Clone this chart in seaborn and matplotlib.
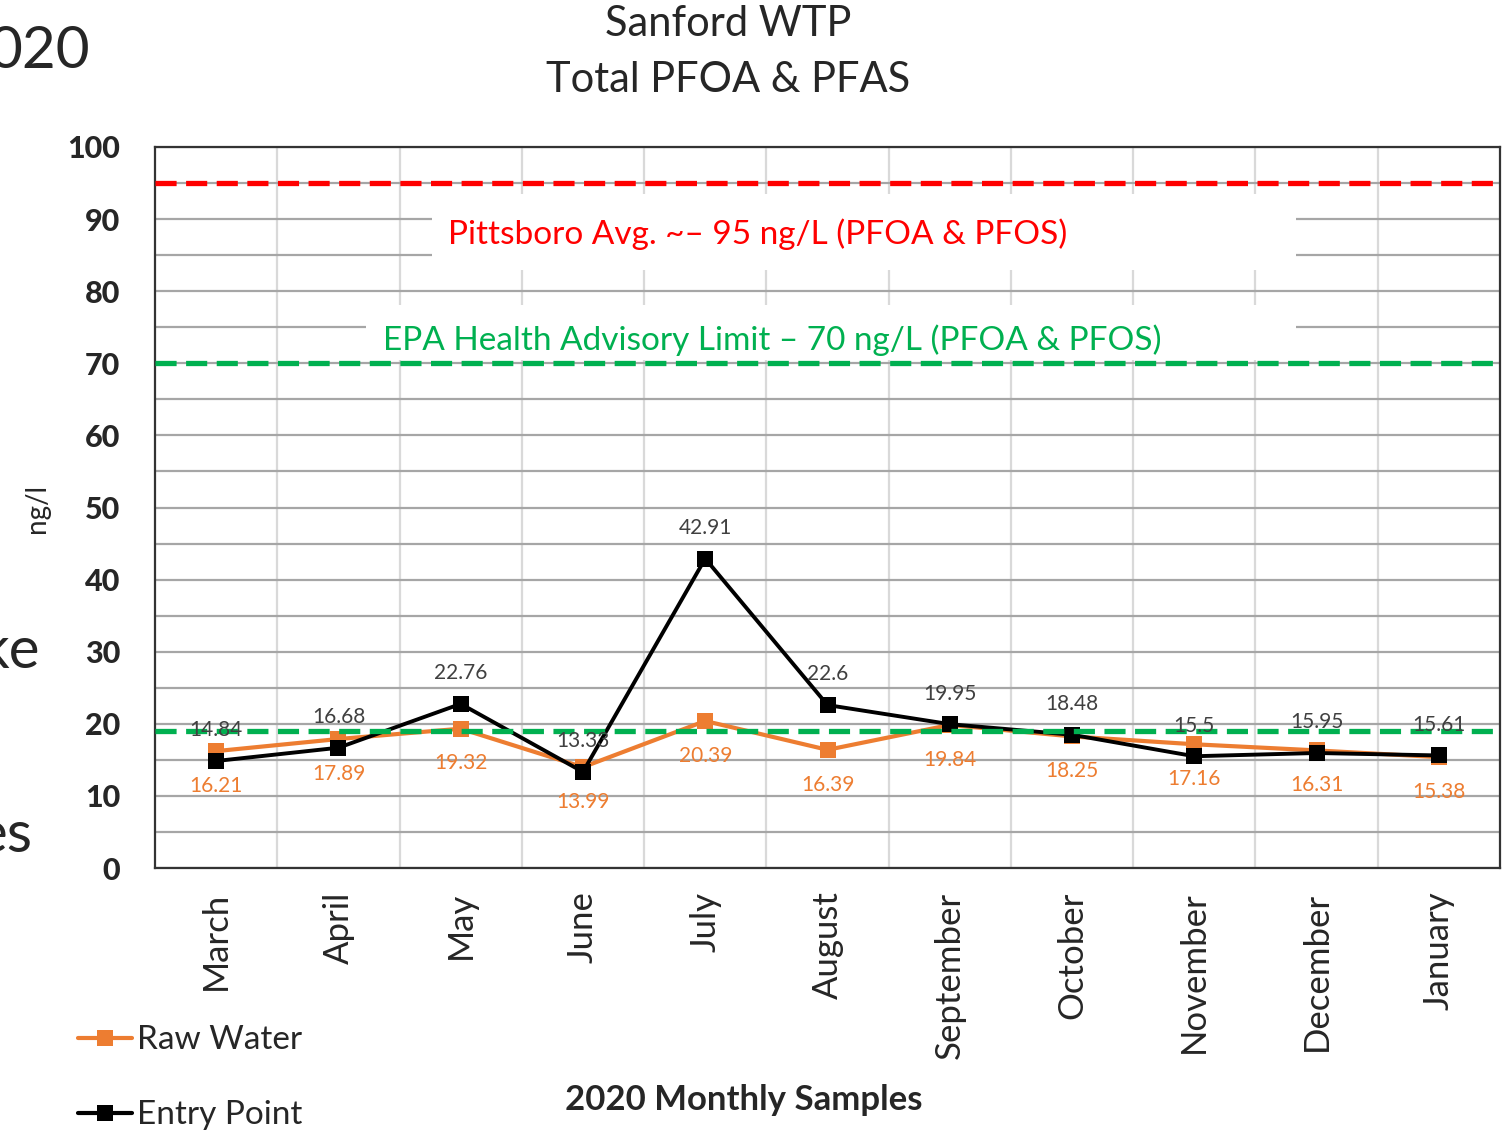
import matplotlib
matplotlib.use("Agg")
import matplotlib.pyplot as plt
from matplotlib.patches import Rectangle
from matplotlib.ticker import FixedLocator, MultipleLocator
from matplotlib.lines import Line2D
import seaborn as sns
import pandas as pd

months = ["March", "April", "May", "June", "July", "August", "September",
          "October", "November", "December", "January"]
raw_water = [16.21, 17.89, 19.32, 13.99, 20.39, 16.39, 19.84, 18.25, 17.16, 16.31, 15.38]
entry_point = [14.84, 16.68, 22.76, 13.33, 42.91, 22.6, 19.95, 18.48, 15.5, 15.95, 15.61]
pittsboro_avg = 95
epa_limit = 70
reference_line = 19
yticks = [0, 10, 20, 30, 40, 50, 60, 70, 80, 90, 100]

ORANGE = "#ED7D31"
GREEN = "#00B050"
RED = "#FF0000"

sns.set_style("white")
plt.rcParams["font.family"] = ["Lato", "DejaVu Sans"]

fig = plt.figure(figsize=(15.11, 11.31), dpi=100)
ax = fig.add_axes([155/1511, 263/1131, 1345/1511, 721/1131])

df = pd.DataFrame({
    "Month": months * 2,
    "Value": raw_water + entry_point,
    "Series": ["Raw Water"] * len(months) + ["Entry Point"] * len(months),
})
df["x"] = list(range(len(months))) * 2

sns.lineplot(data=df[df.Series == "Raw Water"], x="x", y="Value", color=ORANGE,
             marker="s", markersize=11, markeredgewidth=0, linewidth=3, ax=ax,
             zorder=4, label="Raw Water", legend=False)
sns.lineplot(data=df[df.Series == "Entry Point"], x="x", y="Value", color="black",
             marker="s", markersize=11, markeredgewidth=0, linewidth=2.8, ax=ax,
             zorder=5, label="Entry Point", legend=False)

# reference lines
for yv, col in [(pittsboro_avg, RED), (epa_limit, GREEN), (reference_line, GREEN)]:
    ax.axhline(yv, color=col, linewidth=3.8, dashes=(4, 1.8), zorder=6)

# white boxes behind annotations
ax.add_patch(Rectangle((0.206, 0.83), 0.642, 0.105, transform=ax.transAxes,
                       facecolor="white", edgecolor="none", zorder=1))
ax.add_patch(Rectangle((0.157, 0.705), 0.691, 0.076, transform=ax.transAxes,
                       facecolor="white", edgecolor="none", zorder=1))
ax.text(0.448, 87.9, "Pittsboro Avg. ~– 95 ng/L (PFOA & PFOS)", transform=ax.get_yaxis_transform(),
        color=RED, fontsize=24, ha="center", va="center", zorder=7)
ax.text(0.459, 73.2, "EPA Health Advisory Limit – 70 ng/L (PFOA & PFOS)", transform=ax.get_yaxis_transform(),
        color=GREEN, fontsize=24, ha="center", va="center", zorder=7)

# data labels
for i, v in enumerate(entry_point):
    ax.annotate(f"{v:g}", (i, v), xytext=(0, 22), textcoords="offset points",
                ha="center", va="center", fontsize=15, color="#404040", zorder=8)
for i, v in enumerate(raw_water):
    ax.annotate(f"{v:g}", (i, v), xytext=(0, -25), textcoords="offset points",
                ha="center", va="center", fontsize=15, color=ORANGE, zorder=8)

ax.set_xlim(-0.5, len(months) - 0.5)
ax.set_ylim(0, 100)
ax.set_xticks(range(len(months)))
ax.set_xticklabels(months, rotation=90, fontsize=25)
ax.set_yticks(yticks)
ax.set_yticklabels([str(t) for t in yticks], fontsize=22, fontweight="black")
ax.xaxis.set_minor_locator(FixedLocator([i + 0.5 for i in range(len(months) - 1)]))
ax.yaxis.set_minor_locator(MultipleLocator(5))
ax.tick_params(axis="both", which="both", length=0)
ax.tick_params(axis="x", pad=17)
ax.tick_params(axis="y", pad=25)
ax.set_axisbelow(True)
ax.grid(which="both", axis="y", color="#A6A6A6", linewidth=1.6, zorder=0)
ax.grid(which="minor", axis="x", color="#D9D9D9", linewidth=1.6, zorder=0)
ax.grid(which="major", axis="x", visible=False)
ax.set_xlabel("")
ax.set_ylabel("")
for s in ax.spines.values():
    s.set_color("#333333")
    s.set_linewidth(1.6)
    s.set_visible(True)

fig.text(37/1511, 1 - 508/1131, "ng/l", rotation=90, fontsize=20, ha="center", va="center")
fig.text(744/1511, 1 - 1100/1131, "2020 Monthly Samples", fontsize=25, fontweight="bold",
         ha="center", va="center")
fig.text(728/1511, 1 - 24/1131, "Sanford WTP", fontsize=30, ha="center", va="center")
fig.text(728/1511, 1 - 80/1131, "Total PFOA & PFAS", fontsize=30, ha="center", va="center")

# slide fragments at the left edge
fig.text(90/1511, 1 - 52/1131, "020", fontsize=42, ha="right", va="center")
fig.text(40/1511, 1 - 652/1131, "ke", fontsize=42, ha="right", va="center")
fig.text(33/1511, 1 - 835/1131, "es", fontsize=42, ha="right", va="center")

handles = [Line2D([], [], color=ORANGE, marker="s", markersize=11, linewidth=3, markeredgewidth=0),
           Line2D([], [], color="black", marker="s", markersize=11, linewidth=3, markeredgewidth=0)]
fig.legend(handles, ["Raw Water", "Entry Point"], loc="upper left",
           bbox_to_anchor=(65/1511, 1 - 1012/1131), frameon=False, fontsize=24,
           handlelength=1.6, handletextpad=0.15, labelspacing=1.35, borderaxespad=0)

fig.savefig("out.png", dpi=100)
